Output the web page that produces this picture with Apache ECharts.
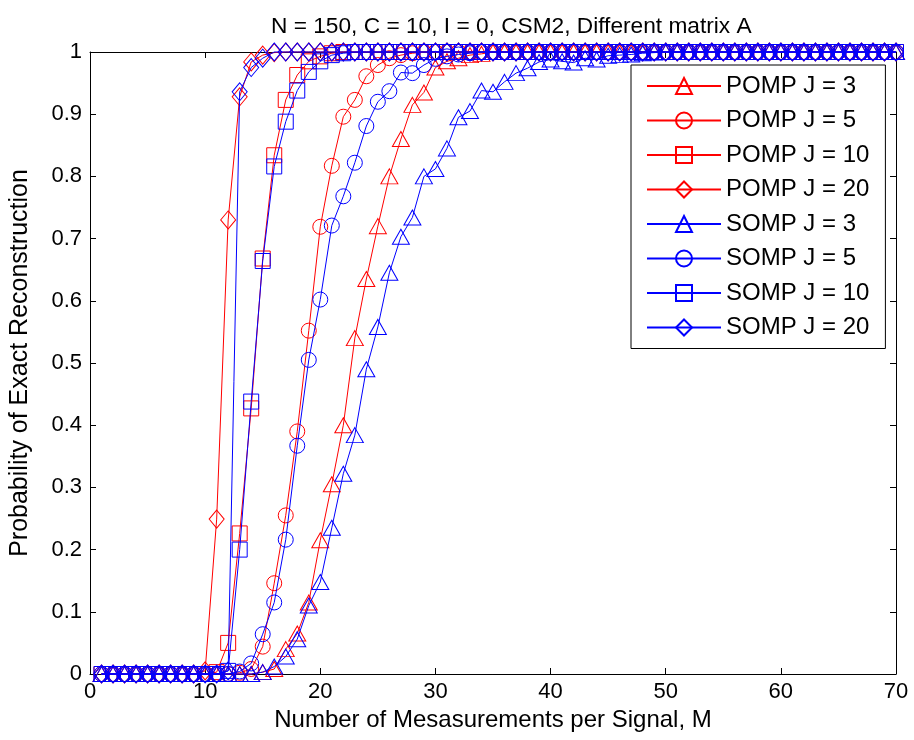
<!DOCTYPE html>
<html>
<head>
<meta charset="utf-8">
<script src="https://cdn.jsdelivr.net/npm/echarts@6/dist/echarts.min.js"></script>
<style>
html,body{margin:0;padding:0;background:#fff;}
#chart{width:914px;height:740px;}
</style>
</head>
<body>
<div id="chart"></div>
<script>
// ---- data ----
const titleText = 'N = 150, C = 10, I = 0, CSM2, Different matrix A';
const xName = 'Number of Mesasurements per Signal, M';
const yName = 'Probability of Exact Reconstruction';
const M = [1,2,3,4,5,6,7,8,9,10,11,12,13,14,15,16,17,18,19,20,21,22,23,24,25,26,27,28,29,30,31,32,33,34,35,36,37,38,39,40,41,42,43,44,45,46,47,48,49,50,51,52,53,54,55,56,57,58,59,60,61,62,63,64,65,66,67,68,69,70];
const xTicks = [0,10,20,30,40,50,60,70];
const yTicks = [0,0.1,0.2,0.3,0.4,0.5,0.6,0.7,0.8,0.9,1];

const pomp3 = [0,0,0,0,0,0,0,0,0,0, 0,0,0,0,0.003,0.008,0.04,0.065,0.115,0.215, 0.305,0.40,0.54,0.635,0.72,0.80,0.86,0.915,0.935,0.975, 0.985,0.99,0.995,0.997,1,1,1,1,1,1, 1,1,1,1,1,1,1,1,1,1, 1,1,1,1,1,1,1,1,1,1, 1,1,1,1,1,1,1,1,1,1];
const pomp5 = [0,0,0,0,0,0,0,0,0,0, 0,0,0.002,0.008,0.044,0.146,0.255,0.39,0.552,0.719, 0.817,0.896,0.923,0.961,0.979,0.99,0.995,0.998,1,1, 1,1,1,1,1,1,1,1,1,1, 1,1,1,1,1,1,1,1,1,1, 1,1,1,1,1,1,1,1,1,1, 1,1,1,1,1,1,1,1,1,1];
const pomp10 = [0,0,0,0,0,0,0,0,0,0, 0.003,0.05,0.226,0.427,0.668,0.834,0.923,0.963,0.985,0.993, 0.998,1,1,1,1,1,1,1,1,1, 1,1,1,1,1,1,1,1,1,1, 1,1,1,1,1,1,1,1,1,1, 1,1,1,1,1,1,1,1,1,1, 1,1,1,1,1,1,1,1,1,1];
const pomp20 = [0,0,0,0,0,0,0,0,0,0.005, 0.249,0.73,0.928,0.984,0.995,0.999,1,1,1,1, 1,1,1,1,1,1,1,1,1,1, 1,1,1,1,1,1,1,1,1,1, 1,1,1,1,1,1,1,1,1,1, 1,1,1,1,1,1,1,1,1,1, 1,1,1,1,1,1,1,1,1,1];
const somp3 = [0,0,0,0,0,0,0,0,0,0, 0,0,0,0,0.003,0.012,0.028,0.056,0.11,0.148, 0.235,0.322,0.384,0.49,0.558,0.645,0.703,0.734,0.80,0.812, 0.845,0.895,0.905,0.938,0.936,0.952,0.966,0.974,0.984,0.988, 0.985,0.983,0.99,0.988,0.994,0.995,0.996,0.998,0.999,1, 1,1,1,1,1,1,1,1,1,1, 1,1,1,1,1,1,1,1,1,1];
const somp5 = [0,0,0,0,0,0,0,0,0,0, 0,0,0.004,0.017,0.064,0.115,0.216,0.367,0.505,0.602, 0.721,0.768,0.822,0.881,0.92,0.937,0.967,0.966,0.979,0.989, 0.993,0.996,0.998,1,1,1,1,1,1,1, 1,1,1,1,1,1,1,1,1,1, 1,1,1,1,1,1,1,1,1,1, 1,1,1,1,1,1,1,1,1,1];
const somp10 = [0,0,0,0,0,0,0,0,0,0, 0,0.005,0.20,0.438,0.664,0.816,0.888,0.938,0.968,0.985, 0.995,0.998,1,1,1,1,1,1,1,1, 1,1,1,1,1,1,1,1,1,1, 1,1,1,1,1,1,1,1,1,1, 1,1,1,1,1,1,1,1,1,1, 1,1,1,1,1,1,1,1,1,1];
const somp20 = [0,0,0,0,0,0,0,0,0,0, 0,0.005,0.936,0.975,0.99,1,1,1,1,1, 1,1,1,1,1,1,1,1,1,1, 1,1,1,1,1,1,1,1,1,1, 1,1,1,1,1,1,1,1,1,1, 1,1,1,1,1,1,1,1,1,1, 1,1,1,1,1,1,1,1,1,1];

const seriesNames = ['POMP J = 3','POMP J = 5','POMP J = 10','POMP J = 20','SOMP J = 3','SOMP J = 5','SOMP J = 10','SOMP J = 20'];
const seriesData = [pomp3,pomp5,pomp10,pomp20,somp3,somp5,somp10,somp20];
const seriesColors = ['#ff0000','#ff0000','#ff0000','#ff0000','#0000ff','#0000ff','#0000ff','#0000ff'];
const seriesSymbols = ['triangle','circle','rect','diamond','triangle','circle','rect','diamond'];

// ---- styles ----
const FONT = "'Liberation Sans', Arial, sans-serif";
const symbolSizes = {triangle:[17,15], circle:15, rect:15, diamond:[15,18]};

const chart = echarts.init(document.getElementById('chart'), null, {renderer:'canvas'});

const series = seriesNames.map((name, i) => ({
  name: name,
  type: 'line',
  data: M.map((m, k) => [m, seriesData[i][k]]),
  symbol: seriesSymbols[i],
  symbolSize: symbolSizes[seriesSymbols[i]],
  showAllSymbol: true,
  clip: false,
  lineStyle: {color: seriesColors[i], width: 1},
  itemStyle: {color: 'rgba(0,0,0,0)', borderColor: seriesColors[i], borderWidth: 1},
  emphasis: {disabled: true},
  z: 2 + i
}));

const axisCommon = {
  type: 'value',
  axisLine: {show: true, onZero: false, lineStyle: {color: '#000', width: 1}},
  axisTick: {show: true, inside: true, length: 6, lineStyle: {color: '#000', width: 1}},
  splitLine: {show: false}
};

chart.setOption({
  animation: false,
  backgroundColor: '#fff',
  title: {
    text: titleText,
    left: 266,
    top: 10,
    textStyle: {fontFamily: FONT, fontSize: 22.7, fontWeight: 'normal', color: '#000'}
  },
  legend: {
    orient: 'vertical',
    left: 631,
    top: 65,
    padding: [9, 16, 9, 15],
    itemGap: 10.5,
    itemWidth: 74,
    itemHeight: 20,
    backgroundColor: '#fff',
    borderColor: '#000',
    borderWidth: 1,
    borderRadius: 0,
    data: seriesNames,
    textStyle: {fontFamily: FONT, fontSize: 24, color: '#000'}
  },
  grid: {left: 90, top: 52, right: 18, bottom: 66, containLabel: false},
  xAxis: [
    Object.assign({}, axisCommon, {
      position: 'bottom', min: 0, max: 70, interval: 10,
      name: xName, nameLocation: 'middle', nameGap: 23,
      nameTextStyle: {fontFamily: FONT, fontSize: 24, color: '#000'},
      axisLabel: {fontFamily: FONT, fontSize: 22, color: '#000', margin: 7,
        customValues: xTicks},
    }),
    Object.assign({}, axisCommon, {
      position: 'top', min: 0, max: 70, interval: 10,
      axisLabel: {show: false}
    })
  ],
  yAxis: [
    Object.assign({}, axisCommon, {
      position: 'left', min: 0, max: 1, interval: 0.1,
      name: yName, nameLocation: 'middle', nameGap: 57,
      nameTextStyle: {fontFamily: FONT, fontSize: 25, color: '#000'},
      axisLabel: {fontFamily: FONT, fontSize: 22, color: '#000', margin: 8,
        formatter: v => String(Math.round(v * 10) / 10)}
    }),
    Object.assign({}, axisCommon, {
      position: 'right', min: 0, max: 1, interval: 0.1,
      axisLabel: {show: false}
    })
  ],
  series: series
});
</script>
</body>
</html>
